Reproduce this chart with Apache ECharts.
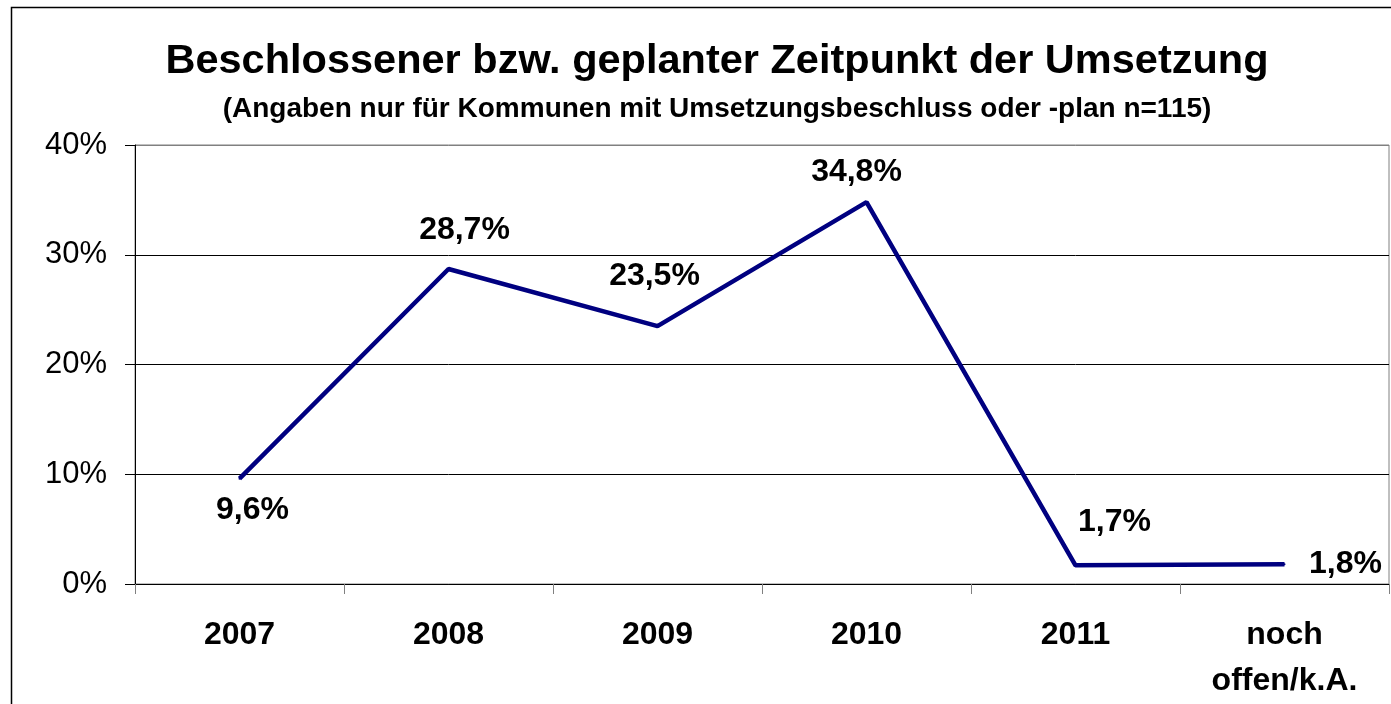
<!DOCTYPE html>
<html lang="de">
<head>
    <meta charset="UTF-8">
    <title>Zeitpunkt der Umsetzung</title>
    <script src="https://cdn.jsdelivr.net/npm/echarts@6.0.0/dist/echarts.min.js"></script>
    <style>
        body {
            margin: 0;
            padding: 0;
            background-color: #fff;
        }

        #chart {
            width: 1391px;
            height: 704px;
        }
    </style>
</head>
<body>
    <div id="chart"></div>

    <script>
        // Daten
        const categories = ['2007', '2008', '2009', '2010', '2011', 'noch\noffen/k.A.'];
        const values = [9.6, 28.7, 23.5, 34.8, 1.7, 1.8];
        const valueLabels = ['9,6%', '28,7%', '23,5%', '34,8%', '1,7%', '1,8%'];
        const yTicks = [0, 10, 20, 30, 40];

        // Lage der Beschriftungen relativ zum Punkt
        const labelOffsets = [[13, 32], [16, -39], [-3, -50], [-10, -30], [39, -43], [61, 0]];

        const font = '"Liberation Sans", Arial, sans-serif';

        const chart = echarts.init(document.getElementById('chart'));

        const option = {
            backgroundColor: '#fff',
            animation: false,
            title: [
                {
                    text: 'Beschlossener bzw. geplanter Zeitpunkt der Umsetzung',
                    left: 712,
                    top: 36,
                    textAlign: 'center',
                    textStyle: {
                        fontFamily: font,
                        fontSize: 41.5,
                        fontWeight: 'bold',
                        color: '#000'
                    }
                },
                {
                    text: '(Angaben nur für Kommunen mit Umsetzungsbeschluss oder -plan n=115)',
                    left: 712,
                    top: 90,
                    textAlign: 'center',
                    textStyle: {
                        fontFamily: font,
                        fontSize: 28,
                        fontWeight: 'bold',
                        color: '#000'
                    }
                }
            ],
            grid: {
                left: 135,
                right: 2,
                top: 145,
                bottom: 120,
                show: true,
                borderColor: '#808080',
                borderWidth: 1
            },
            xAxis: {
                type: 'category',
                data: categories,
                boundaryGap: true,
                axisLine: { lineStyle: { color: '#000', width: 1 } },
                axisTick: {
                    show: true,
                    length: 10,
                    alignWithLabel: false,
                    lineStyle: { color: '#808080' }
                },
                axisLabel: {
                    margin: 28,
                    fontFamily: font,
                    fontSize: 32,
                    fontWeight: 'bold',
                    lineHeight: 46,
                    color: '#000',
                    interval: 0
                },
                splitLine: { show: false }
            },
            yAxis: {
                type: 'value',
                min: yTicks[0],
                max: yTicks[yTicks.length - 1],
                interval: 10,
                axisLine: { show: true, lineStyle: { color: '#000', width: 1 } },
                axisTick: { show: true, length: 10, lineStyle: { color: '#000' } },
                axisLabel: {
                    margin: 28,
                    fontFamily: font,
                    fontSize: 31,
                    color: '#000',
                    formatter: '{value}%'
                },
                splitLine: {
                    show: true,
                    lineStyle: { color: ['#000', '#000', '#000', '#000', '#808080'], width: 1 }
                }
            },
            series: [{
                type: 'line',
                data: values.map((v, i) => ({
                    value: v,
                    label: {
                        show: true,
                        position: 'inside',
                        offset: labelOffsets[i],
                        formatter: valueLabels[i]
                    }
                })),
                symbol: 'circle',
                symbolSize: 2,
                showSymbol: true,
                itemStyle: { color: '#000080' },
                lineStyle: { color: '#000080', width: 4.5 },
                label: {
                    fontFamily: font,
                    fontSize: 32,
                    fontWeight: 'bold',
                    color: '#000'
                }
            }],
            graphic: [{
                type: 'rect',
                shape: { x: 11.5, y: 7.5, width: 1400, height: 720 },
                style: { fill: null, stroke: '#000', lineWidth: 1.5 },
                silent: true
            }]
        };

        chart.setOption(option);
    </script>
</body>
</html>
